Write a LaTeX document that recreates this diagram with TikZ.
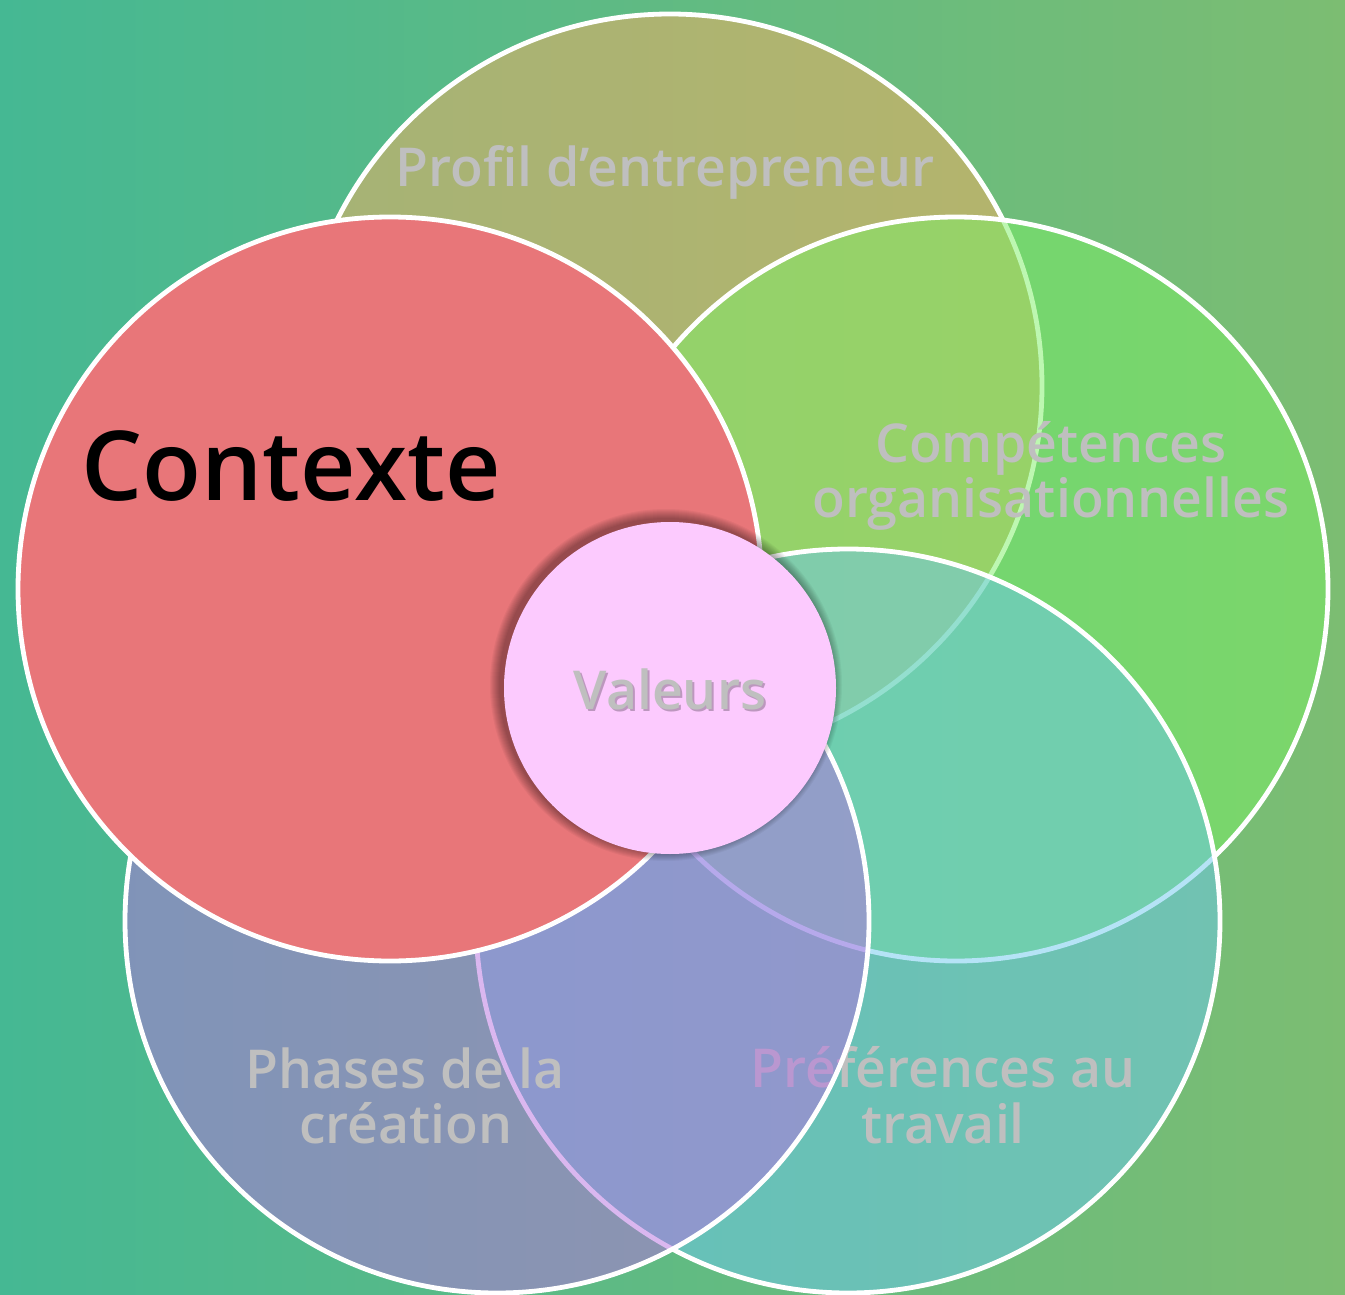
\documentclass[tikz,border=0pt]{standalone}
\usepackage{fontspec}
\setmainfont{Open Sans}
\newfontfamily\lab{Open Sans Semibold}
\definecolor{bgL}{RGB}{69,184,147}
\definecolor{bgR}{RGB}{124,189,114}
\definecolor{cTop}{RGB}{250,174,97}
\definecolor{cRight}{RGB}{124,240,101}
\definecolor{cBR}{RGB}{109,200,238}
\definecolor{cBL}{RGB}{183,112,225}
\definecolor{cRed}{RGB}{232,118,121}
\definecolor{cVal}{RGB}{252,202,254}
\definecolor{labgray}{RGB}{191,191,191}
\begin{document}
\begin{tikzpicture}[x=1pt,y=-1pt,
  ring/.style={circle, draw=white, line width=4.8pt, fill opacity=0.5, minimum size=744pt, inner sep=0pt},
  lbl/.style={text=labgray, font=\lab\fontsize{53.6}{55}\selectfont, anchor=base, inner sep=0pt}]
\useasboundingbox (0,0) rectangle (1345,1295);
\shade[left color=bgL, right color=bgR] (0,0) rectangle (1345,1295);
% top circle
\node[ring, fill=cTop] (top) at (670,386) {};
\node[lbl] (tProfil) at (665,187) {Profil d’entrepreneur};
% right circle
\node[ring, fill=cRight] (right) at (956,589) {};
\node[lbl] (tComp1) at (1051,462) {Compétences};
\node[lbl] (tComp2) at (1051,517) {organisationnelles};
% bottom right circle
\node[ring, fill=cBR] (bright) at (848,921) {};
\node[lbl] (tPref1) at (943,1087) {Préférences au};
\node[lbl] (tPref2) at (943,1143) {travail};
% bottom left circle
\node[ring, fill=cBL] (bleft) at (497,921) {};
\node[lbl] (tPhase1) at (405,1088) {Phases de la};
\node[lbl] (tPhase2) at (406,1143) {création};
% left red circle
\node[ring, fill=cRed, fill opacity=1] (left) at (390,589) {};
\node[anchor=base west, inner sep=0pt, font=\lab\fontsize{96.5}{98}\selectfont] (tCont) at (81,500) {Contexte};
% shadow of centre circle
\foreach \k in {1,...,10}
  \fill[black, opacity=0.04] (666,685) circle[radius={166pt+\k*1pt}];
\node[circle, fill=cVal, minimum size=332pt, inner sep=0pt] (centre) at (670,688) {};
\node[lbl, text=black, opacity=0.25] (tValS) at (672,711) {Valeurs};
\node[lbl] (tVal) at (670,709) {Valeurs};
\end{tikzpicture}
\end{document}
